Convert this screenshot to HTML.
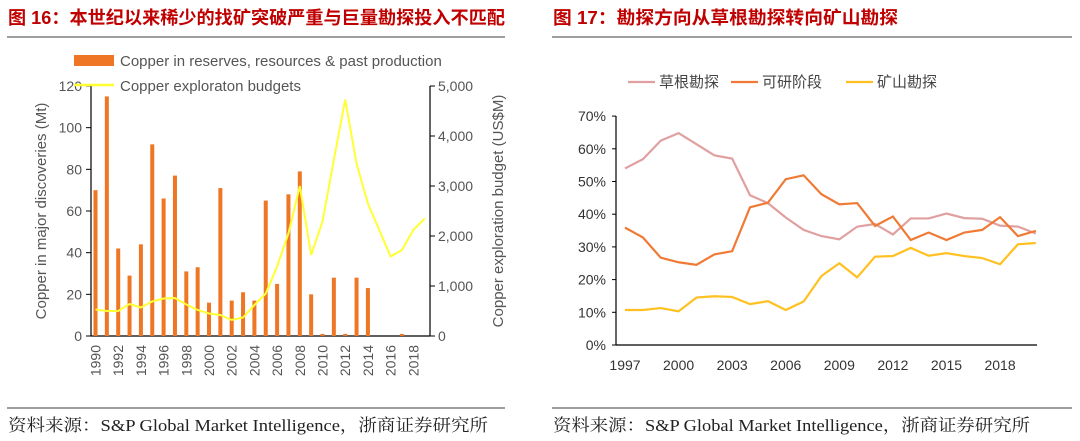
<!DOCTYPE html>
<html><head><meta charset="utf-8"><style>
body{margin:0;width:1080px;height:441px;background:#fff;overflow:hidden;font-family:"Liberation Sans","Noto Sans CJK SC",sans-serif}
svg{position:absolute;left:0;top:0}
</style></head><body>
<svg id="s" width="1080" height="441">
<text x="8" y="24" font-size="18" font-weight="bold" fill="#c00000" textLength="497" lengthAdjust="spacingAndGlyphs" font-family="Liberation Sans,Noto Sans CJK SC,sans-serif">图 16：本世纪以来稀少的找矿突破严重与巨量勘探投入不匹配</text>
<text x="553" y="24" font-size="18" font-weight="bold" fill="#c00000" textLength="345" lengthAdjust="spacingAndGlyphs" font-family="Liberation Sans,Noto Sans CJK SC,sans-serif">图 17：勘探方向从草根勘探转向矿山勘探</text>
<line x1="7" y1="37" x2="505" y2="37" stroke="#666" stroke-width="1.2"/>
<line x1="552" y1="37" x2="1072" y2="37" stroke="#666" stroke-width="1.2"/>
<line x1="7" y1="408" x2="505" y2="408" stroke="#666" stroke-width="1.2"/>
<line x1="552" y1="408" x2="1072" y2="408" stroke="#666" stroke-width="1.2"/>
<text x="8" y="431" font-size="17" fill="#222" textLength="480" lengthAdjust="spacingAndGlyphs" font-family="Liberation Serif,Noto Serif CJK SC,serif">资料来源：S&amp;P Global Market Intelligence，浙商证券研究所</text>
<text x="553" y="431" font-size="17" fill="#222" textLength="477" lengthAdjust="spacingAndGlyphs" font-family="Liberation Serif,Noto Serif CJK SC,serif">资料来源：S&amp;P Global Market Intelligence，浙商证券研究所</text>
<g id="L"></g><g id="R"></g>
</svg>
<script>
const years=[1990,1991,1992,1993,1994,1995,1996,1997,1998,1999,2000,2001,2002,2003,2004,2005,2006,2007,2008,2009,2010,2011,2012,2013,2014,2015,2016,2017,2018,2019];
const copper=[70,115,42,29,44,92,66,77,31,33,16,71,17,21,17,65,25,68,79,20,1,28,1,28,23,0,0,1,0,0];
const budget=[530,500,500,640,570,690,750,760,630,520,450,420,320,370,620,850,1390,2050,3000,1620,2290,3520,4730,3450,2650,2120,1590,1720,2120,2350];
const leftTicks=[0,20,40,60,80,100,120];
const rightTicks=[0,1000,2000,3000,4000,5000];
const rYears=[1997,1998,1999,2000,2001,2002,2003,2004,2005,2006,2007,2008,2009,2010,2011,2012,2013,2014,2015,2016,2017,2018,2019,2020];
const grass=[54.0,56.8,62.5,64.8,61.4,58,57,45.8,43.4,39,35.2,33.3,32.3,36.2,37,33.8,38.7,38.7,40.2,38.8,38.6,36.5,36.2,34.1];
const feas=[35.9,32.9,26.7,25.3,24.5,27.7,28.7,42.1,43.5,50.7,51.9,46.1,43,43.4,36.4,39.3,32.1,34.4,32.1,34.4,35.2,39.1,33.3,34.9];
const mine=[10.7,10.7,11.3,10.3,14.5,14.9,14.7,12.5,13.4,10.7,13.3,21.1,25,20.7,27,27.2,29.7,27.3,28.1,27.2,26.6,24.7,30.8,31.2];
const pctTicks=[0,10,20,30,40,50,60,70];
const rXTicks=[1997,2000,2003,2006,2009,2012,2015,2018];
const NS='http://www.w3.org/2000/svg';
function mk(p,t,a,txt){const e=document.createElementNS(NS,t);for(const k in a)e.setAttribute(k,a[k]);if(txt!==undefined)e.textContent=txt;p.appendChild(e);return e;}
const L=document.getElementById('L'),R=document.getElementById('R');
const lx=y=>95.5+(y-1990)*11.35, ly=v=>336-v*250/120, ry=v=>336-v*250/5000;
let e;
e=mk(L,'line',{x1:91,y1:86,x2:91,y2:336,stroke:'#000','stroke-width':1.2});

e=mk(L,'line',{x1:430,y1:86,x2:430,y2:336,stroke:'#000','stroke-width':1.2});

e=mk(L,'line',{x1:91,y1:336,x2:430,y2:336,stroke:'#000','stroke-width':1.2});

leftTicks.forEach(v=>{mk(L,'line',{x1:86,x2:91,y1:ly(v),y2:ly(v),stroke:'#000'});
e=mk(L,'text',{x:82,y:ly(v)+5,'font-size':14,fill:'#555','text-anchor':'end'},v);
});
rightTicks.forEach(v=>{mk(L,'line',{x1:430,x2:435,y1:ry(v),y2:ry(v),stroke:'#000'});
e=mk(L,'text',{x:438,y:ry(v)+5,'font-size':14,fill:'#555'},v.toLocaleString('en-US'));
});
years.forEach((y,i)=>{const v=copper[i];if(v>0){e=mk(L,'rect',{x:lx(y)-2,y:ly(v),width:4,height:336-ly(v),fill:'#ee7625'});
}
if(i%2==0){const X=lx(y)+5;e=mk(L,'text',{x:X,y:345,'font-size':14,fill:'#555','text-anchor':'end',transform:`rotate(-90 ${X} 345)`},y);
}});
e=mk(L,'polyline',{points:years.map((y,i)=>lx(y)+','+ry(budget[i])).join(' '),fill:'none',stroke:'#ffff33','stroke-width':2});

e=mk(L,'text',{x:46,y:211,'font-size':15,fill:'#555','text-anchor':'middle',transform:'rotate(-90 46 211)'},'Copper in major discoveries (Mt)');

e=mk(L,'text',{x:503,y:211,'font-size':15,fill:'#555','text-anchor':'middle',transform:'rotate(-90 503 211)'},'Copper exploration budget (US$M)');

e=mk(L,'rect',{x:74,y:55,width:40,height:11,fill:'#ee7625'});

e=mk(L,'text',{x:120,y:66,'font-size':15,fill:'#555'},'Copper in reserves, resources & past production');

e=mk(L,'line',{x1:74,x2:114,y1:85,y2:85,stroke:'#ffff33','stroke-width':2.5});

e=mk(L,'text',{x:120,y:91,'font-size':15,fill:'#555'},'Copper exploraton budgets');

const px=y=>625+(y-1997)*17.86, py=v=>345-v*3.27;
e=mk(R,'line',{x1:616,y1:116,x2:616,y2:345,stroke:'#000','stroke-width':1.2});

e=mk(R,'line',{x1:616,y1:345,x2:1037,y2:345,stroke:'#000','stroke-width':1.2});

pctTicks.forEach(v=>{mk(R,'line',{x1:612,x2:616,y1:py(v),y2:py(v),stroke:'#000'});
e=mk(R,'text',{x:606,y:py(v)+5,'font-size':14,fill:'#333','text-anchor':'end'},v+'%');
});
rXTicks.forEach(y=>{e=mk(R,'text',{x:px(y),y:370,'font-size':14,fill:'#333','text-anchor':'middle'},y);
});
const series=[['grassroots-line',grass,'#e0a0a0','草根勘探',657],['feasibility-line',feas,'#f07a35','可研阶段',760],['mine-site-line',mine,'#ffc020','矿山勘探',875]];
series.forEach(([n,d,c,lab,lx0])=>{
e=mk(R,'polyline',{points:rYears.map((y,i)=>px(y)+','+py(d[i])).join(' '),fill:'none',stroke:c,'stroke-width':2.2});

e=mk(R,'line',{x1:lx0-29,x2:lx0-2,y1:82,y2:82,stroke:c,'stroke-width':2.2});

e=mk(R,'text',{x:lx0+2,y:87,'font-size':15,fill:'#444'},lab);
});
</script>
</body></html>
